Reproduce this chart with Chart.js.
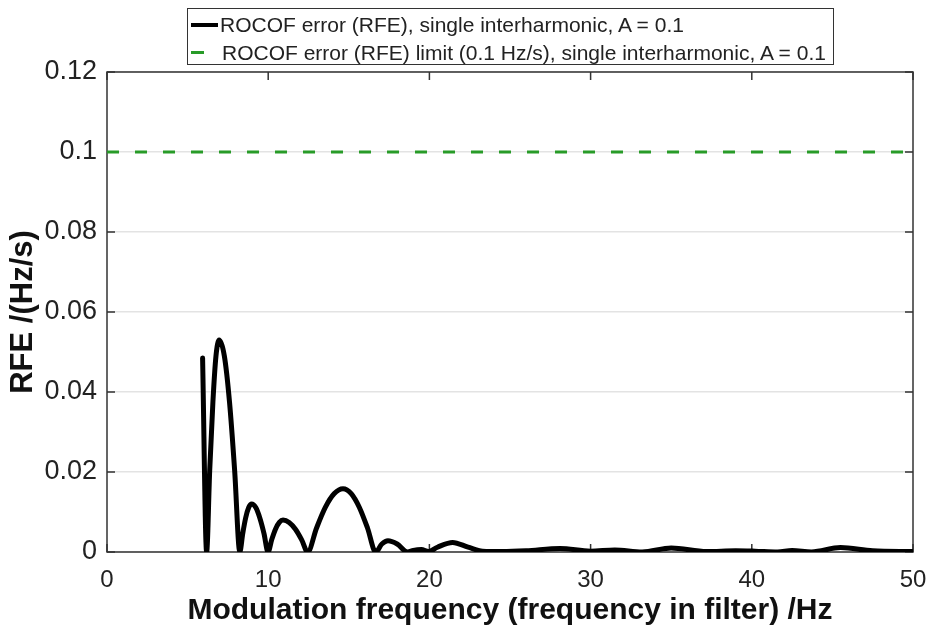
<!DOCTYPE html>
<html>
<head>
<meta charset="utf-8">
<script src="https://cdn.jsdelivr.net/npm/chart.js@4.4.0/dist/chart.umd.min.js"></script>
<style>
    body { margin: 0; background: #fff; }
    #wrap { position: relative; width: 930px; height: 633px; }
    #legend {
        position: absolute; left: 187px; top: 8px; width: 645px; height: 55px;
        border: 1.5px solid #333; background: #fff;
        font-family: 'Liberation Sans', Arial, sans-serif; font-size: 21px; color: #222;
    }
    .row { position: absolute; left: 0; height: 26px; line-height: 26px; white-space: nowrap; }
    .row span.txt { position: absolute; left: 32px; }
    .sample { position: absolute; top: 11px; height: 4px; }
</style>
</head>
<body>
<div id="wrap">
    <canvas id="grafico-rfe"></canvas>
    <div id="legend">
        <div class="row" style="top:3px"><div class="sample" style="left:3px;width:27px;background:#000"></div><span class="txt">ROCOF error (RFE), single interharmonic, A = 0.1</span></div>
        <div class="row" style="top:31px"><div class="sample" style="left:3px;width:13px;height:3px;background:rgb(40,155,40)"></div><span class="txt" style="left:34px">ROCOF error (RFE) limit (0.1 Hz/s), single interharmonic, A = 0.1</span></div>
    </div>
</div>
<script>
// Modulation frequency (Hz) and RFE (Hz/s)
const freqHz = [
    5.93, 6.18, 6.37, 6.57, 6.76, 6.96, 7.28, 7.6, 7.92, 8.24,
    8.42, 8.6, 8.79, 8.97, 9.23, 9.48, 9.74, 9.99,
    10.22, 10.45, 10.69, 10.92, 11.3, 11.69, 12.07, 12.45,
    13.0, 13.55, 14.1, 14.64, 15.15, 15.65, 16.16, 16.67,
    17.05, 17.43, 18.0, 18.65,
    19.0, 19.5, 19.95, 20.5, 21.44, 22.4, 23.3, 24.5, 26.0, 28.1,
    30.0, 31.5, 33.2, 35.0, 37.2, 39.0, 40.2, 41.6, 42.5, 43.7,
    45.5, 47.5, 50.0
];
const rfe = [
    0.0485, 0, 0.0203, 0.0375, 0.049, 0.053, 0.049, 0.0375, 0.0203, 0,
    0.0046, 0.0085, 0.0111, 0.012, 0.0111, 0.0085, 0.0046, 0,
    0.0031, 0.0057, 0.0074, 0.008, 0.0074, 0.0057, 0.0031, 0,
    0.006, 0.0112, 0.0146, 0.0158, 0.0146, 0.0112, 0.006, 0,
    0.002, 0.0028, 0.002, 0,
    0.0004, 0.0006, 0.0001, 0.0012, 0.0024, 0.0012, 0.0002, 0.0001, 0.0003, 0.0009,
    0.0002, 0.0005, 0, 0.001, 0.0001, 0.0003, 0.0002, 0, 0.0004, 0,
    0.0011, 0.0003, 0.0001
];
const limitFreq = [0, 50];
const limitRfe = [0.1, 0.1];
const yTickLabels = ['0', '0.02', '0.04', '0.06', '0.08', '0.1', '0.12'];
const xTickLabels = ['0', '10', '20', '30', '40', '50'];

var fontFamily = "'Liberation Sans', Arial, sans-serif";
var axisColor = '#333';

// box round the plot and inward tick marks, like the original
const boxPlugin = {
    id: 'boxPlugin',
    beforeDatasetsDraw(chart) {
        const ctx = chart.ctx;
        const a = chart.chartArea;
        const xs = chart.scales.x, ys = chart.scales.y;
        ctx.save();
        ctx.strokeStyle = axisColor;
        ctx.lineWidth = 1.5;
        ctx.strokeRect(a.left, a.top, a.right - a.left, a.bottom - a.top);
        ctx.beginPath();
        xs.ticks.forEach(function(t) {
            const px = xs.getPixelForValue(t.value);
            ctx.moveTo(px, a.bottom); ctx.lineTo(px, a.bottom - 8);
            ctx.moveTo(px, a.top); ctx.lineTo(px, a.top + 8);
        });
        ys.ticks.forEach(function(t) {
            const py = ys.getPixelForValue(t.value);
            ctx.moveTo(a.left, py); ctx.lineTo(a.left + 8, py);
            ctx.moveTo(a.right, py); ctx.lineTo(a.right - 8, py);
        });
        ctx.stroke();
        ctx.restore();
    }
};

const data = {
    datasets: [{
        label: 'ROCOF error (RFE), single interharmonic, A = 0.1',
        data: freqHz.map((f, i) => ({ x: f, y: rfe[i] })),
        borderColor: '#000',
        borderWidth: 5,
        pointRadius: 0,
        cubicInterpolationMode: 'monotone',
        borderJoinStyle: 'round',
        borderCapStyle: 'round',
        order: 1
    }, {
        label: 'ROCOF error (RFE) limit (0.1 Hz/s), single interharmonic, A = 0.1',
        data: limitFreq.map((f, i) => ({ x: f, y: limitRfe[i] })),
        borderColor: 'rgb(40,155,40)',
        borderWidth: 3,
        borderDash: [12, 16],
        pointRadius: 0,
        order: 0
    }]
};

const config = {
    type: 'line',
    data: data,
    options: {
        responsive: true,
        maintainAspectRatio: false,
        animation: false,
        layout: { padding: { top: 72, right: 17, left: 0, bottom: 0 } },
        plugins: {
            legend: { display: false },
            tooltip: { enabled: false },
            title: { display: false }
        },
        scales: {
            x: {
                type: 'linear',
                min: 0, max: 50,
                ticks: {
                    stepSize: 10,
                    padding: 14,
                    color: '#222',
                    font: { family: fontFamily, size: 24 },
                    maxRotation: 0,
                    callback: (v, i) => xTickLabels[i]
                },
                grid: { display: false, drawTicks: false },
                border: { display: false },
                title: {
                    display: true,
                    text: 'Modulation frequency (frequency in filter) /Hz',
                    color: '#111',
                    font: { family: fontFamily, size: 30, weight: 'bold' },
                    padding: { top: 0, bottom: 4 }
                },
                afterFit: function(scale) {
                    scale.height = 81;
                    scale.paddingLeft = 0;
                    scale.paddingRight = 0;
                }
            },
            y: {
                min: 0, max: 0.12,
                ticks: {
                    stepSize: 0.02,
                    padding: 10,
                    color: '#222',
                    font: { family: fontFamily, size: 27 },
                    callback: (v, i) => yTickLabels[i]
                },
                grid: { color: '#e3e3e3', lineWidth: 1.5, drawTicks: false },
                border: { display: false },
                title: {
                    display: true,
                    text: 'RFE /(Hz/s)',
                    color: '#111',
                    font: { family: fontFamily, size: 31, weight: 'bold' },
                    padding: { top: 5, bottom: 0 }
                },
                afterFit: function(scale) { scale.width = 107; }
            }
        }
    },
    plugins: [boxPlugin]
};

var myChart = new Chart(document.getElementById('grafico-rfe'), config);
</script>
</body>
</html>
